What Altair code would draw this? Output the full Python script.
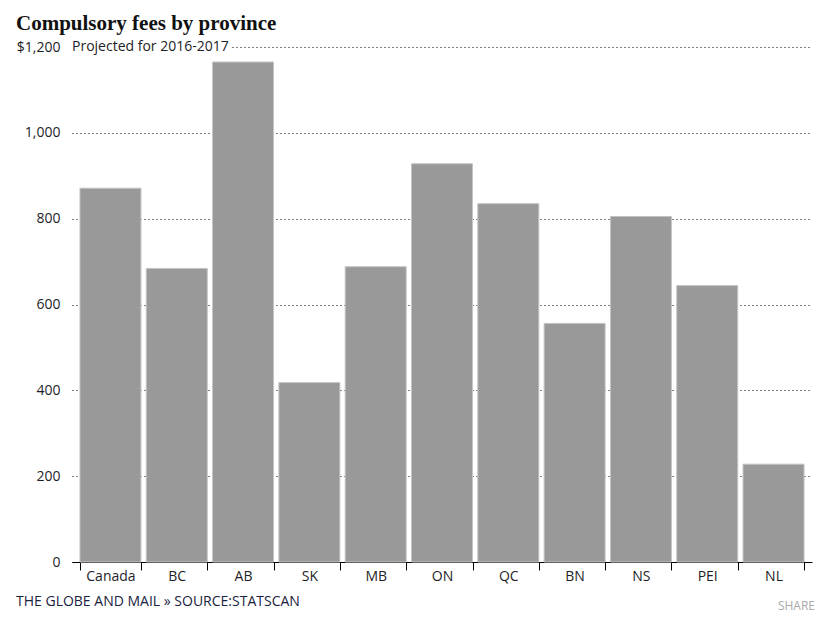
import altair as alt
import pandas as pd

provinces = ["Canada", "BC", "AB", "SK", "MB", "ON", "QC", "BN", "NS", "PEI", "NL"]
fees = [871, 684, 1165, 418, 688, 928, 835, 556, 805, 644, 228]
y_ticks = [0, 200, 400, 600, 800, 1000, 1200]

title_text = "Compulsory fees by province"
note_text = "Projected for 2016-2017"
footer_text = "THE GLOBE AND MAIL » SOURCE:STATSCAN"
share_text = "SHARE"

df = pd.DataFrame({"province": provinces, "fee": fees})

W, H = 740, 515
label_font = "Open Sans"
ink = "#1e1e28"

x_enc = alt.X(
    "province:N",
    sort=provinces,
    scale=alt.Scale(paddingInner=0.08, paddingOuter=0.12),
    axis=alt.Axis(
        title=None,
        labelAngle=0,
        labelFont=label_font,
        labelFontSize=14,
        labelColor=ink,
        labelPadding=-1,
        tickSize=8,
        tickColor="#000",
        domainColor="#000",
        tickBand="extent",
        grid=False,
    ),
)

y_enc = alt.Y(
    "fee:Q",
    scale=alt.Scale(domain=[0, 1200], nice=False),
    axis=alt.Axis(
        title=None,
        values=y_ticks,
        labelExpr="datum.value == 1200 ? '$1,200' : format(datum.value, ',')",
        labelFont=label_font,
        labelFontSize=14,
        labelColor=ink,
        labelPadding=12,
        domain=False,
        ticks=False,
        grid=True,
        gridColor="#000",
        gridDash=[1, 3],
        gridWidth=1,
    ),
)

bars = alt.Chart(df).mark_bar(
    color="#999999", stroke="#c4c4c4", strokeWidth=1
).encode(x=x_enc, y=y_enc)

mask = alt.Chart(pd.DataFrame({"v": [1200]})).mark_rule(
    color="white", strokeWidth=6
).encode(y=alt.Y("v:Q"), x=alt.value(0), x2=alt.value(160))

note = alt.Chart(pd.DataFrame({"v": [1200], "t": [note_text]})).mark_text(
    align="left", baseline="middle", font=label_font, fontSize=14, color=ink
).encode(y=alt.Y("v:Q"), x=alt.value(0), text="t:N")

footer = alt.Chart(pd.DataFrame({"t": [footer_text]})).mark_text(
    align="left", baseline="middle", font=label_font, fontSize=14, color="#1a2340"
).encode(x=alt.value(-56), y=alt.value(H + 40), text="t:N")

share = alt.Chart(pd.DataFrame({"t": [share_text]})).mark_text(
    align="right", baseline="middle", font=label_font, fontSize=12, color="#aaaaaa"
).encode(x=alt.value(W + 3), y=alt.value(H + 44), text="t:N")

chart = alt.layer(bars, mask, note, footer, share).properties(
    width=W,
    height=H,
    padding={"left": 64, "top": 39, "right": 5, "bottom": 57},
    autosize="none",
    title=alt.TitleParams(
        title_text,
        anchor="start",
        font="Liberation Serif",
        fontSize=21,
        fontWeight="bold",
        color="#111",
        offset=6,
    ),
).configure(background="white").configure_view(stroke=None)

chart.save("out.html", embed_options={"renderer": "svg", "actions": False})
